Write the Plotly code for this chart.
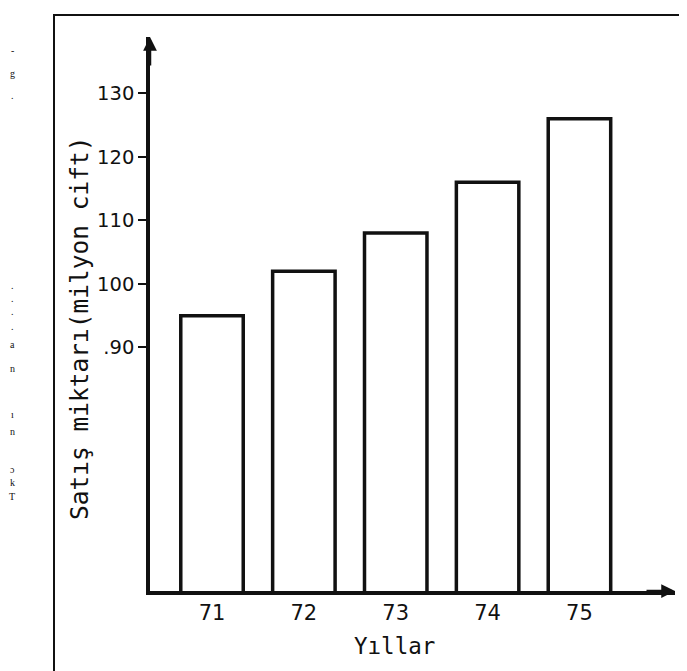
import plotly.graph_objects as go

# ---- data ----
years = ["71", "72", "73", "74", "75"]
sales = [95, 102, 108, 116, 126]
y_tick_vals = [90, 100, 110, 120, 130]
y_tick_text = [".90", "100", "110", "120", "130"]
x_title = "Yıllar"
y_title = "Satış miktarı(milyon cift)"
margin_fragments = ["-", "g", ".", ".", ".", ".", ".", "a", "n", "ı", "n", "ɔ", "k", "T"]
fragment_rows = [42, 66, 88, 277, 290, 303, 318, 336, 360, 407, 423, 461, 474, 488]

W, H = 687, 671
L, R, T, B = 142, 20, 29, 88
PW, PH = W - L - R, H - T - B

def px(x):
    return (x - L) / PW

def py(y):
    return (H - B - y) / PH

FONT = "DejaVu Sans"
MONO = "DejaVu Sans Mono"
INK = "#111111"

fig = go.Figure()
fig.add_trace(go.Bar(
    x=years, y=sales, width=0.68,
    marker=dict(color="white", line=dict(color=INK, width=3.5)),
    hoverinfo="skip",
))

annotations = []
for yr, v in zip(years, sales):
    annotations.append(dict(x=yr, y=v, xref="x", yref="y", text=str(v), showarrow=False,
                            xanchor="center", yanchor="bottom", yshift=3,
                            font=dict(family=FONT, size=21, color=INK)))

# axis arrows
annotations.append(dict(x=1.0, y=0, xref="paper", yref="paper", ax=-30, ay=0, text="",
                        showarrow=True, arrowhead=2, arrowsize=1.1, arrowwidth=2.5, arrowcolor=INK))
annotations.append(dict(x=0, y=1.0, xref="paper", yref="paper", ax=0, ay=30, text="",
                        showarrow=True, arrowhead=2, arrowsize=1.1, arrowwidth=2.5, arrowcolor=INK))

annotations.append(dict(x=px(386), y=py(638), xref="paper", yref="paper", text=x_title, showarrow=False,
                        xanchor="center", yanchor="middle",
                        font=dict(family=MONO, size=22.5, color=INK)))
annotations.append(dict(x=px(71), y=py(320), xref="paper", yref="paper", text=y_title, showarrow=False,
                        xanchor="center", yanchor="middle",
                        textangle=-90, font=dict(family=MONO, size=24.5, color=INK)))

for t, r in zip(margin_fragments, fragment_rows):
    annotations.append(dict(x=px(4), y=py(r), xref="paper", yref="paper", text=t, showarrow=False,
                            xanchor="center", yanchor="middle", borderpad=0,
                            font=dict(family="Liberation Serif", size=10, color=INK)))

shapes = [dict(type="rect", xref="paper", yref="paper",
               x0=px(46), x1=px(684), y0=py(700), y1=py(7),
               line=dict(color=INK, width=2), fillcolor="rgba(0,0,0,0)", layer="below")]

fig.update_layout(
    width=W, height=H,
    margin=dict(l=L, r=R, t=T, b=B),
    paper_bgcolor="white", plot_bgcolor="white",
    showlegend=False,
    annotations=annotations,
    shapes=shapes,
    xaxis=dict(type="category", range=[-0.675, 5.04], showgrid=False, zeroline=False,
               showline=True, linecolor=INK, linewidth=3.5, ticks="",
               tickfont=dict(family=FONT, size=21, color=INK)),
    yaxis=dict(range=[51.68, 138.85], showgrid=False, zeroline=False,
               showline=True, linecolor=INK, linewidth=3.5,
               tickvals=y_tick_vals, ticktext=y_tick_text,
               ticks="outside", ticklen=8, tickwidth=2, tickcolor=INK,
               tickfont=dict(family=FONT, size=19.5, color=INK)),
)

fig.write_html("out.html")
